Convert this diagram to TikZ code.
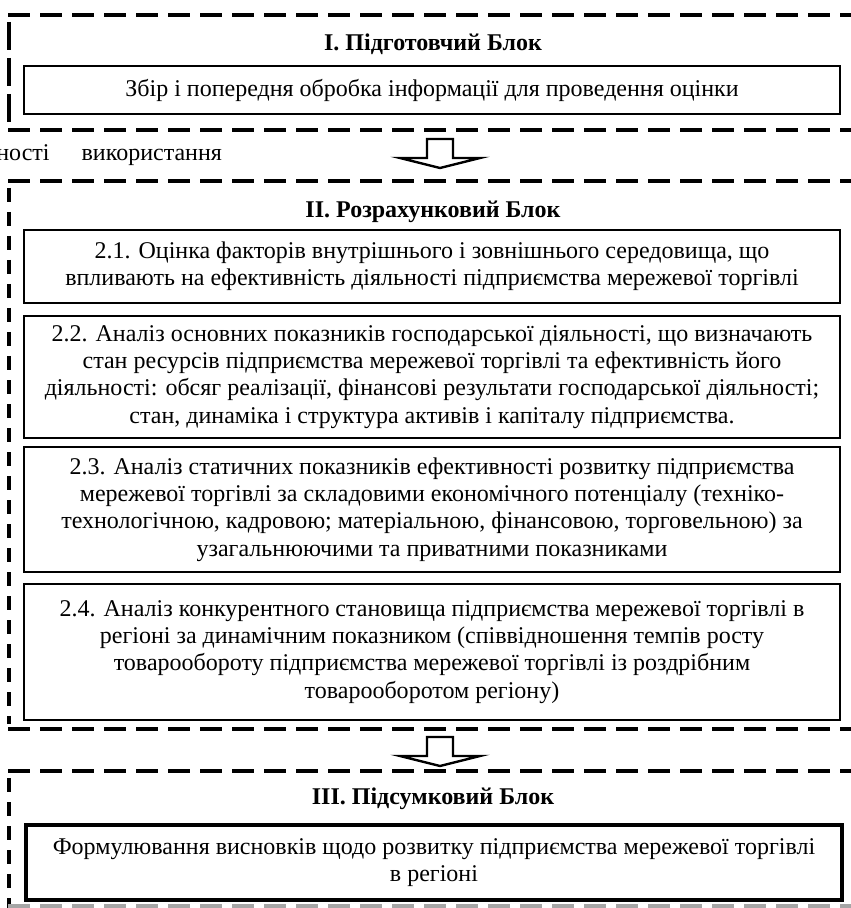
\documentclass[tikz,border=0pt]{standalone}
\usepackage{fontspec}
\setmainfont{Liberation Serif}
\usetikzlibrary{positioning}
\tikzset{
  frameline/.style={line width=2pt, dash pattern=on 11pt off 5pt},
  sideline/.style={line width=1.8pt, dash pattern=on 7pt off 5pt},
  blockhead/.style={font=\fontsize{12}{14}\selectfont\bfseries, inner sep=0pt},
  stagebox/.style={draw, line width=0.8pt, align=center, minimum width=408pt, inner sep=1pt},
  blockarrow/.style={draw, line width=1.2pt, fill=white, line join=miter}
}
\begin{document}
\begin{tikzpicture}[x=0.5pt, y=-0.5pt, font=\fontsize{12}{13.6}\selectfont]
    \useasboundingbox (0,0) rectangle (850,908);
    % I. Preparatory block frame
    \draw[frameline] (8,15) -- (870,15);
    \draw[sideline, dash pattern=on 14pt off 4pt] (9,22) -- (9,122);
    \draw[frameline] (8,130) -- (870,130);
    \node[blockhead] (headI) at (433,44) {I. Підготовчий Блок};
    \node[stagebox, minimum height=24pt] (prep) at (432,90)
        {Збір і попередня обробка інформації для проведення оцінки};
    % Text fragment between blocks
    \node[anchor=west, inner sep=0pt] (frag) at (-4,155) {ності\hspace{16pt}використання};
    % II. Calculation block frame
    \draw[frameline] (8,181) -- (870,181);
    \draw[sideline] (9,188) -- (9,724);
    \draw[frameline] (8,729) -- (870,729);
    \node[blockhead] (headII) at (433,212) {II. Розрахунковий Блок};
    \node[stagebox, minimum height=36.5pt] (calcA) at (432,266.5)
        {2.1. Оцінка факторів внутрішнього і зовнішнього середовища, що\\
         впливають на ефективність діяльності підприємства мережевої торгівлі};
    \node[stagebox, minimum height=61pt] (calcB) at (432,377)
        {2.2. Аналіз основних показників господарської діяльності, що визначають\\
         стан ресурсів підприємства мережевої торгівлі та ефективність його\\
         діяльності: обсяг реалізації, фінансові результати господарської діяльності;\\
         стан, динаміка і структура активів і капіталу підприємства.};
    \node[stagebox, minimum height=62.5pt] (calcC) at (432,509.5)
        {2.3. Аналіз статичних показників ефективності розвитку підприємства\\
         мережевої торгівлі за складовими економічного потенціалу (техніко-\\
         технологічною, кадровою; матеріальною, фінансовою, торговельною) за\\
         узагальнюючими та приватними показниками};
    \node[stagebox, minimum height=68pt] (calcD) at (432,652)
        {2.4. Аналіз конкурентного становища підприємства мережевої торгівлі в\\
         регіоні за динамічним показником (співвідношення темпів росту\\
         товарообороту підприємства мережевої торгівлі із роздрібним\\
         товарооборотом регіону)};
    % III. Final block frame
    \draw[frameline] (8,771) -- (870,771);
    \draw[sideline] (9,778) -- (9,912);
    \draw[frameline, black!35] (8,906) -- (870,906);
    \node[blockhead] (headIII) at (433,799) {III. Підсумковий Блок};
    \node[stagebox, line width=2pt, minimum height=37.5pt] (final) at (434,862.5)
        {Формулювання висновків щодо розвитку підприємства мережевої торгівлі\\
         в регіоні};
    % Block arrows
    \coordinate (arrI) at (440,139);
    \coordinate (arrII) at (440,737);
    \foreach \a in {arrI,arrII}
        \draw[blockarrow] (\a) ++(-13,0) -- ++(0,19) -- ++(-27,0) -- ++(40,10)
            -- ++(40,-10) -- ++(-27,0) -- ++(0,-19) -- cycle;
\end{tikzpicture}
\end{document}
